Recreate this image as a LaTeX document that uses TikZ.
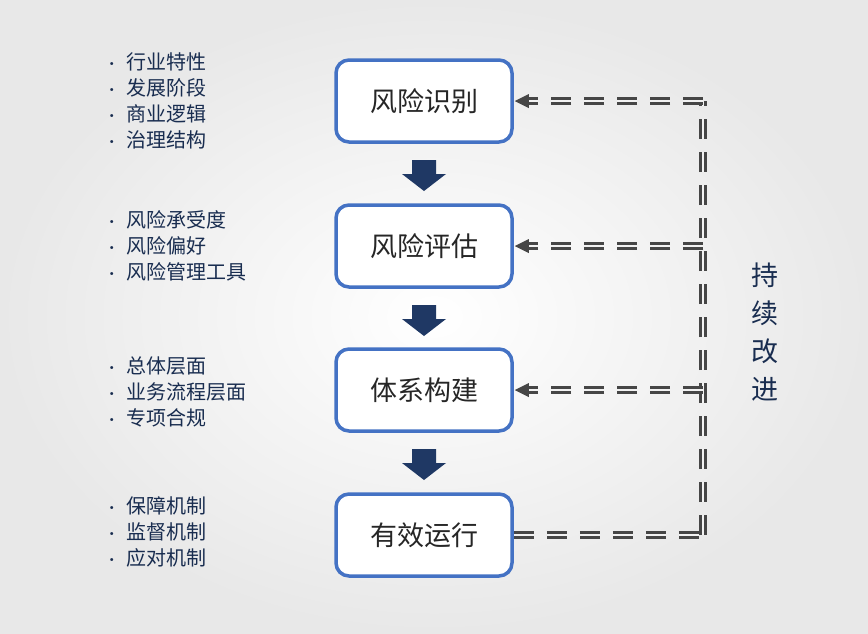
\documentclass[tikz,border=0pt]{standalone}
\usepackage{fontspec}
\newfontfamily\cjk{Noto Sans CJK SC}
\definecolor{boxblue}{RGB}{68,114,196}
\definecolor{navy}{RGB}{31,56,100}
\definecolor{dashgray}{RGB}{70,70,70}
\definecolor{bgc}{RGB}{242,242,242}
\begin{document}
\begin{tikzpicture}[x=1pt,y=-1pt,
  stepbox/.style={draw=boxblue,line width=3.5pt,rounded corners=13pt,fill=white,minimum width=176pt,minimum height=82pt,font=\cjk\fontsize{27}{30}\selectfont,text=black!85},
  bul/.style={anchor=west,font=\cjk\fontsize{20}{22}\selectfont,text=navy!80!black},
  loop/.style={draw=dashgray,line width=3.2pt,double=bgc,double distance=1.3pt,dash pattern=on 20pt off 13pt}]
\useasboundingbox (0,0) rectangle (868,633);
\shade[inner color=white,outer color=black!9] (0,0) rectangle (868,633);
\node[stepbox] (b1) at (424,101) {风险识别};
\node[stepbox] (b2) at (424,246) {风险评估};
\node[stepbox] (b3) at (424,390) {体系构建};
\node[stepbox] (b4) at (424,535) {有效运行};
\foreach \y in {160,305,449}{
  \fill[navy] (412,\y) -- (436,\y) -- (436,\y+14) -- (446,\y+14) -- (424,\y+31) -- (402,\y+14) -- (412,\y+14) -- cycle;}
\coordinate (c1) at (703,101);
\coordinate (c2) at (703,246);
\coordinate (c3) at (703,390);
\coordinate (c4) at (703,535);
\draw[loop] (c4) -- (c1);
\draw[loop] (b4.east) -- (c4);
\foreach \i in {1,2,3}{
  \draw[loop] (c\i) -- ([xshift=14pt]b\i.east);
  \fill[dashgray] ([xshift=1pt]b\i.east) -- ++(14,-7) -- ++(0,14) -- cycle;}
\node[font=\cjk\fontsize{27}{38}\selectfont,text=navy!80!black,align=center] (t) at (765,332) {持\\续\\改\\进};
\foreach \t [count=\k] in {行业特性,发展阶段,商业逻辑,治理结构}
  \node[bul] (a\k) at (101,62+26*\k-26) {{\Large•}\hspace{8pt}\t};
\foreach \t [count=\k] in {风险承受度,风险偏好,风险管理工具}
  \node[bul] (p\k) at (101,220+26*\k-26) {{\Large•}\hspace{8pt}\t};
\foreach \t [count=\k] in {总体层面,业务流程层面,专项合规}
  \node[bul] (q\k) at (101,366+26*\k-26) {{\Large•}\hspace{8pt}\t};
\foreach \t [count=\k] in {保障机制,监督机制,应对机制}
  \node[bul] (r\k) at (101,506+26*\k-26) {{\Large•}\hspace{8pt}\t};
\end{tikzpicture}
\end{document}
